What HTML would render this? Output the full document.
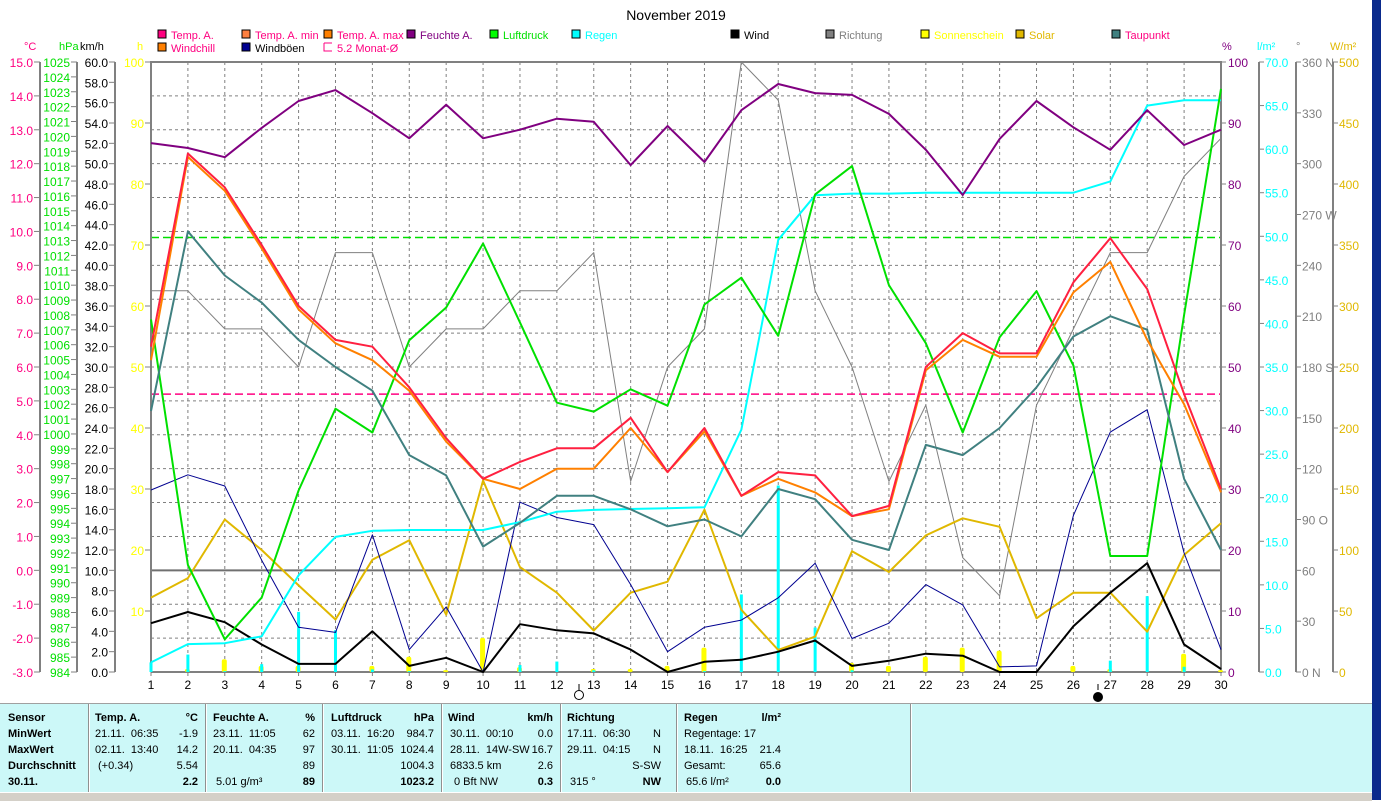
<!DOCTYPE html>
<html><head><meta charset="utf-8"><title>November 2019</title>
<style>
html,body{margin:0;padding:0;background:#fff;}
body{width:1381px;height:800px;position:relative;overflow:hidden;font-family:"Liberation Sans",sans-serif;}
svg{position:absolute;left:0;top:0;}
.tbl{position:absolute;left:0;top:703px;width:1372px;height:88px;background:#ccf8f8;border-top:1px solid #a0a0a0;}
.cell{position:absolute;font-family:"Liberation Sans Narrow","Liberation Sans",sans-serif;font-size:11px;color:#000;white-space:nowrap;}
.b{font-weight:bold;}
.sep{position:absolute;top:0;width:1px;height:88px;background:#909090;border-right:1px solid #fff;}
.status{position:absolute;left:0;top:792px;width:1372px;height:8px;background:#d4d0c8;border-top:1px solid #fff;}
.blue{position:absolute;left:1372px;top:0;width:9px;height:800px;background:#0a2a8c;}
</style></head>
<body>
<div class="blue"></div>
<svg id="chart" width="1381" height="703"></svg>
<div class="tbl">
  <div class="sep" style="left:88px"></div><div class="sep" style="left:205px"></div><div class="sep" style="left:322px"></div><div class="sep" style="left:441px"></div><div class="sep" style="left:560px"></div><div class="sep" style="left:676px"></div><div class="sep" style="left:910px"></div>
  <div class="cell b" style="left:8px;top:8px">Sensor</div>
  <div class="cell b" style="left:8px;top:24px">MinWert</div>
  <div class="cell b" style="left:8px;top:40px">MaxWert</div>
  <div class="cell b" style="left:8px;top:56px">Durchschnitt</div>
  <div class="cell b" style="left:8px;top:72px">30.11.</div>

  <div class="cell b" style="left:95px;top:8px">Temp. A.</div><div class="cell b" style="right:1174px;top:8px">°C</div>
  <div class="cell" style="left:95px;top:24px">21.11.&nbsp; 06:35</div><div class="cell" style="right:1174px;top:24px">-1.9</div>
  <div class="cell" style="left:95px;top:40px">02.11.&nbsp; 13:40</div><div class="cell" style="right:1174px;top:40px">14.2</div>
  <div class="cell" style="left:98px;top:56px">(+0.34)</div><div class="cell" style="right:1174px;top:56px">5.54</div>
  <div class="cell b" style="right:1174px;top:72px">2.2</div>

  <div class="cell b" style="left:213px;top:8px">Feuchte A.</div><div class="cell b" style="right:1057px;top:8px">%</div>
  <div class="cell" style="left:213px;top:24px">23.11.&nbsp; 11:05</div><div class="cell" style="right:1057px;top:24px">62</div>
  <div class="cell" style="left:213px;top:40px">20.11.&nbsp; 04:35</div><div class="cell" style="right:1057px;top:40px">97</div>
  <div class="cell" style="right:1057px;top:56px">89</div>
  <div class="cell" style="left:216px;top:72px">5.01 g/m³</div><div class="cell b" style="right:1057px;top:72px">89</div>

  <div class="cell b" style="left:331px;top:8px">Luftdruck</div><div class="cell b" style="right:938px;top:8px">hPa</div>
  <div class="cell" style="left:331px;top:24px">03.11.&nbsp; 16:20</div><div class="cell" style="right:938px;top:24px">984.7</div>
  <div class="cell" style="left:331px;top:40px">30.11.&nbsp; 11:05</div><div class="cell" style="right:938px;top:40px">1024.4</div>
  <div class="cell" style="right:938px;top:56px">1004.3</div>
  <div class="cell b" style="right:938px;top:72px">1023.2</div>

  <div class="cell b" style="left:448px;top:8px">Wind</div><div class="cell b" style="right:819px;top:8px">km/h</div>
  <div class="cell" style="left:450px;top:24px">30.11.&nbsp; 00:10</div><div class="cell" style="right:819px;top:24px">0.0</div>
  <div class="cell" style="left:450px;top:40px">28.11.&nbsp; 14W-SW</div><div class="cell" style="right:819px;top:40px">16.7</div>
  <div class="cell" style="left:450px;top:56px">6833.5 km</div><div class="cell" style="right:819px;top:56px">2.6</div>
  <div class="cell" style="left:454px;top:72px">0 Bft NW</div><div class="cell b" style="right:819px;top:72px">0.3</div>

  <div class="cell b" style="left:567px;top:8px">Richtung</div>
  <div class="cell" style="left:567px;top:24px">17.11.&nbsp; 06:30</div><div class="cell" style="right:711px;top:24px">N</div>
  <div class="cell" style="left:567px;top:40px">29.11.&nbsp; 04:15</div><div class="cell" style="right:711px;top:40px">N</div>
  <div class="cell" style="right:711px;top:56px">S-SW</div>
  <div class="cell" style="left:570px;top:72px">315 °</div><div class="cell b" style="right:711px;top:72px">NW</div>

  <div class="cell b" style="left:684px;top:8px">Regen</div><div class="cell b" style="right:591px;top:8px">l/m²</div>
  <div class="cell" style="left:684px;top:24px">Regentage: 17</div>
  <div class="cell" style="left:684px;top:40px">18.11.&nbsp; 16:25</div><div class="cell" style="right:591px;top:40px">21.4</div>
  <div class="cell" style="left:684px;top:56px">Gesamt:</div><div class="cell" style="right:591px;top:56px">65.6</div>
  <div class="cell" style="left:686px;top:72px">65.6 l/m²</div><div class="cell b" style="right:591px;top:72px">0.0</div>
</div>
<div class="status"></div>
<script>
const days = [1,2,3,4,5,6,7,8,9,10,11,12,13,14,15,16,17,18,19,20,21,22,23,24,25,26,27,28,29,30];
const tempA = [6.6,12.3,11.3,9.6,7.8,6.8,6.6,5.4,3.9,2.7,3.2,3.6,3.6,4.5,2.9,4.2,2.2,2.9,2.8,1.6,1.9,6.0,7.0,6.4,6.4,8.5,9.8,8.3,5.2,2.4];
const windchill = [6.2,12.2,11.2,9.5,7.7,6.7,6.2,5.3,3.8,2.7,2.4,3.0,3.0,4.2,2.9,4.1,2.2,2.7,2.3,1.6,1.8,5.9,6.8,6.3,6.3,8.2,9.1,6.8,4.9,2.3];
const humidity = [86.7,85.9,84.4,89.2,93.6,95.4,91.6,87.5,93.0,87.5,88.9,90.7,90.2,83.1,89.5,83.6,92.1,96.4,94.9,94.6,91.5,85.6,78.2,87.4,93.6,89.3,85.6,92.1,86.4,88.9];
const pressure = [1007.7,991.2,986.2,989.0,996.2,1001.7,1000.1,1006.3,1008.5,1012.8,1007.5,1002.1,1001.5,1003.0,1001.9,1008.7,1010.5,1006.6,1016.1,1018.0,1010.0,1006.1,1000.1,1006.5,1009.6,1004.6,991.8,991.8,1008.0,1023.2];
const rainTotal = [1.1,3.2,3.3,4.1,11.1,15.5,16.2,16.3,16.3,16.3,17.2,18.4,18.6,18.7,18.8,18.9,27.8,49.6,54.7,54.9,54.9,55.0,55.0,55.0,55.0,55.0,56.3,65.0,65.6,65.6];
const rainDaily = [1.1,2.0,0.1,0.9,6.9,4.8,0.3,0.1,0,0,0.8,1.2,0.2,0,0,0.1,8.9,21.4,5.1,0.2,0,0,0,0,0,0,1.3,8.7,0.6,0];
const sunshine = [0,0.5,2.1,1,1,0,1,2.5,0.3,5.6,0.8,0,0.5,0.5,1,4,0,0,0,1.5,1,2.5,4,3.5,0,1,0.5,0,3,0.3];
const solar = [61,77,125,100,71,43,92,108,47,157,86,65,34,65,74,133,51,18,29,99,82,112,126,119,44,65,65,33,96,122];
const dewpoint = [4.7,10.0,8.7,7.9,6.8,6.0,5.3,3.4,2.8,0.7,1.4,2.2,2.2,1.8,1.3,1.5,1.0,2.4,2.1,0.9,0.6,3.7,3.4,4.2,5.4,6.9,7.5,7.1,2.7,0.6];
const wind = [4.8,5.9,4.9,2.7,0.8,0.8,4.0,0.6,1.4,0,4.7,4.1,3.8,2.2,0,1.0,1.2,2.0,3.1,0.6,1.1,1.8,1.6,0,0,4.5,7.8,10.7,2.7,0.3];
const gusts = [17.9,19.4,18.3,11.0,4.4,3.9,13.5,2.2,6.4,0,16.7,15.2,14.5,8.6,2.0,4.4,5.1,7.3,10.7,3.3,4.8,8.6,6.6,0.5,0.6,15.4,23.6,25.8,11.7,2.2];
const direction = [225,225,202.5,202.5,180,247.5,247.5,180,202.5,202.5,225,225,247.5,112.5,180,202.5,360,337.5,225,180,112.5,157.5,67.5,45,157.5,202.5,247.5,247.5,292.5,315];
const tempTicks = [15,14,13,12,11,10,9,8,7,6,5,4,3,2,1,0,-1,-2,-3];
const monthAvgTemp = [5.2];
const pressureRef = [1013.2];

const NS="http://www.w3.org/2000/svg";
const svg=document.getElementById('chart');
const L=151,R=1221,T=62,B=672;
const xDay=d=>L+(d-1)*(R-L)/29;
const yLin=(v,min,max)=>B-(v-min)/(max-min)*(B-T);
const yT=v=>yLin(v,-3,15), yH=v=>yLin(v,0,100), yP=v=>yLin(v,984,1025), yW=v=>yLin(v,0,60);
const yRain=v=>yLin(v,0,70), yDir=v=>yLin(v,0,360), ySol=v=>yLin(v,0,500), ySun=v=>yLin(v,0,100);
function el(tag,attrs,parent){const e=document.createElementNS(NS,tag);for(const k in attrs)e.setAttribute(k,attrs[k]);(parent||svg).appendChild(e);return e;}
function txt(x,y,s,fill,anchor,size){const t=el('text',{x:x,y:y,fill:fill,'font-size':size||12,'text-anchor':anchor||'start','font-family':'Liberation Sans, sans-serif'});t.textContent=s;return t;}

// title
let t=txt(676,20,'November 2019','#000','middle',14);



// legend
const legend=[[158,38,'#ff0080','Temp. A.','#ff0080'],[242,38,'#ff8040','Temp. A. min','#ff0080'],[324,38,'#ff8000','Temp. A. max','#ff0080'],[407,38,'#800080','Feuchte A.','#800080'],[490,38,'#00ff00','Luftdruck','#00e000'],[572,38,'#00ffff','Regen','#00ffff'],[731,38,'#000','Wind','#000'],[826,38,'#808080','Richtung','#808080'],[921,38,'#ffff00','Sonnenschein','#ffff00'],[1016,38,'#e0b800','Solar','#e0b800'],[1112,38,'#408080','Taupunkt','#ff0080'],[158,51,'#ff8000','Windchill','#ff0080'],[242,51,'#000090','Windböen','#000']];
legend.forEach(l=>{
  const g=el('g',{});
  
  
  el('rect',{x:l[0],y:l[1]-8,width:8,height:8,fill:l[2],stroke:'#000','stroke-width':1},g);
  const tt=txt(l[0]+13,l[1]+1,l[3],l[4],'start',11);g.appendChild(tt);
});
const gm=el('g',{});


el('path',{d:'M324,43 V51 H332 M324,43 H332',stroke:'#ff0080',fill:'none'},gm);
gm.appendChild(txt(337,52,'5.2 Monat-Ø','#ff0080','start',11));

// grid
for(let v=14;v>-3;v--){if(v===0)continue;el('line',{x1:L,x2:R,y1:yT(v),y2:yT(v),stroke:'#808080','stroke-dasharray':'3,3','stroke-width':1});}
days.forEach(d=>{if(d>1&&d<30)el('line',{x1:xDay(d),x2:xDay(d),y1:T,y2:B,stroke:'#808080','stroke-dasharray':'3,3'});});
el('line',{x1:L,x2:R,y1:yT(0),y2:yT(0),stroke:'#707070','stroke-width':2});
let ref=el('line',{x1:L,x2:R,y1:yP(pressureRef[0]),y2:yP(pressureRef[0]),stroke:'#00e000','stroke-dasharray':'8,4','stroke-width':1.5});


let avg=el('line',{x1:L,x2:R,y1:yT(monthAvgTemp[0]),y2:yT(monthAvgTemp[0]),stroke:'#ff0080','stroke-dasharray':'8,4','stroke-width':1.5});



// frame
el('path',{d:`M${L},${B} V${T} H${R} V${B} H${L}`,stroke:'#808080','stroke-width':2,fill:'none'});

// axes left
function axis(xLine,ticks,yf,fmt,color,side,name){
  const g=el('g',{});
  
  
  el('line',{x1:xLine,x2:xLine,y1:T,y2:B,stroke:'#808080','stroke-width':2},g);
  ticks.forEach(v=>{const y=yf(v);
    if(side==='L'){el('line',{x1:xLine-6,x2:xLine,y1:y,y2:y,stroke:'#808080'},g);g.appendChild(txt(xLine-7,y+5,fmt(v),color,'end',12));}
    else{el('line',{x1:xLine,x2:xLine+5,y1:y,y2:y,stroke:'#808080'},g);g.appendChild(txt(xLine+6,y+5,fmt(v),color,'start',12));}
  });
}
axis(40,tempTicks,yT,v=>v.toFixed(1),'#ff0080','L','temperature-axis');
const hpaTicks=[];for(let v=1025;v>=984;v--)hpaTicks.push(v);
axis(77,hpaTicks,yP,v=>String(v),'#00e000','L','pressure-axis');
const kmhTicks=[];for(let v=60;v>=0;v-=2)kmhTicks.push(v);
axis(115,kmhTicks,yW,v=>v.toFixed(1),'#000','L','wind-axis');
const hTicks=[100,90,80,70,60,50,40,30,20,10];
hTicks.forEach(v=>{el('line',{x1:145,x2:151,y1:ySun(v),y2:ySun(v),stroke:'#808080'});txt(144,ySun(v)+5,String(v),'#ffff00','end',12);});
const pctTicks=[100,90,80,70,60,50,40,30,20,10,0];
pctTicks.forEach(v=>{el('line',{x1:R,x2:R+5,y1:yH(v),y2:yH(v),stroke:'#808080'});txt(R+7,yH(v)+5,String(v),'#800080','start',12);});
const rainTicks=[70,65,60,55,50,45,40,35,30,25,20,15,10,5,0];
axis(1259,rainTicks,yRain,v=>v.toFixed(1),'#00ffff','R','rain-axis');
const dirTicks=[360,330,300,270,240,210,180,150,120,90,60,30,0];
const dirNames={360:' N',270:' W',180:' S',90:' O',0:' N'};
axis(1296,dirTicks,yDir,v=>v+(dirNames[v]||''),'#808080','R','direction-axis');
const solTicks=[500,450,400,350,300,250,200,150,100,50,0];
axis(1333,solTicks,ySol,v=>String(v),'#e0b800','R','solar-axis');

// unit headers
[[24,'°C','#ff0080'],[59,'hPa','#00e000'],[80,'km/h','#000'],[137,'h','#ffff00'],[1222,'%','#800080'],[1257,'l/m²','#00ffff'],[1296,'°','#808080'],[1330,'W/m²','#e0b800']].forEach(u=>txt(u[0],50,u[1],u[2],'start',11));

// day labels
days.forEach(d=>{el('line',{x1:xDay(d),x2:xDay(d),y1:B,y2:B+4,stroke:'#808080'});const tl=txt(xDay(d),689,String(d),'#000','middle',12);});
// moon phases
el('line',{x1:579,x2:579,y1:684,y2:690,stroke:'#000'});
el('circle',{cx:579,cy:695,r:4.5,fill:'#fff',stroke:'#000'});
el('line',{x1:1098,x2:1098,y1:684,y2:690,stroke:'#000'});
el('circle',{cx:1098,cy:697,r:4.5,fill:'#000',stroke:'#000'});

// sunshine bars
days.forEach((d,i)=>{if(sunshine[i]<=0)return;const y=ySun(sunshine[i]);
  const r=el('rect',{x:xDay(d)-3,y:y,width:5,height:B-y,fill:'#ffff00',rx:2});
  
  
});
// rain bars
days.forEach((d,i)=>{if(rainDaily[i]<=0)return;const y=yRain(rainDaily[i]);
  const r=el('rect',{x:xDay(d)-1.5,y:y,width:3,height:B-y,fill:'#00ffff'});
  
  
});

function line(arr,yf,color,w,name){
  const p=el('polyline',{points:arr.map((v,i)=>xDay(days[i])+','+yf(v).toFixed(1)).join(' '),fill:'none',stroke:color,'stroke-width':w,'stroke-linejoin':'round'});
  
  
}
line(direction,yDir,'#808080',1,'direction-line');
line(solar,ySol,'#e0b800',2,'solar-line');
line(gusts,yW,'#000090',1,'gusts-line');
line(wind,yW,'#000',2,'wind-line');
line(rainTotal,yRain,'#00ffff',2,'rain-total-line');
line(pressure,yP,'#00e000',2,'pressure-line');
line(dewpoint,yT,'#408080',2,'dewpoint-line');
line(humidity,yH,'#800080',2,'humidity-line');
line(windchill,yT,'#ff8000',2,'windchill-line');
line(tempA,yT,'#ff2040',2,'temperature-line');
</script>
</body></html>
